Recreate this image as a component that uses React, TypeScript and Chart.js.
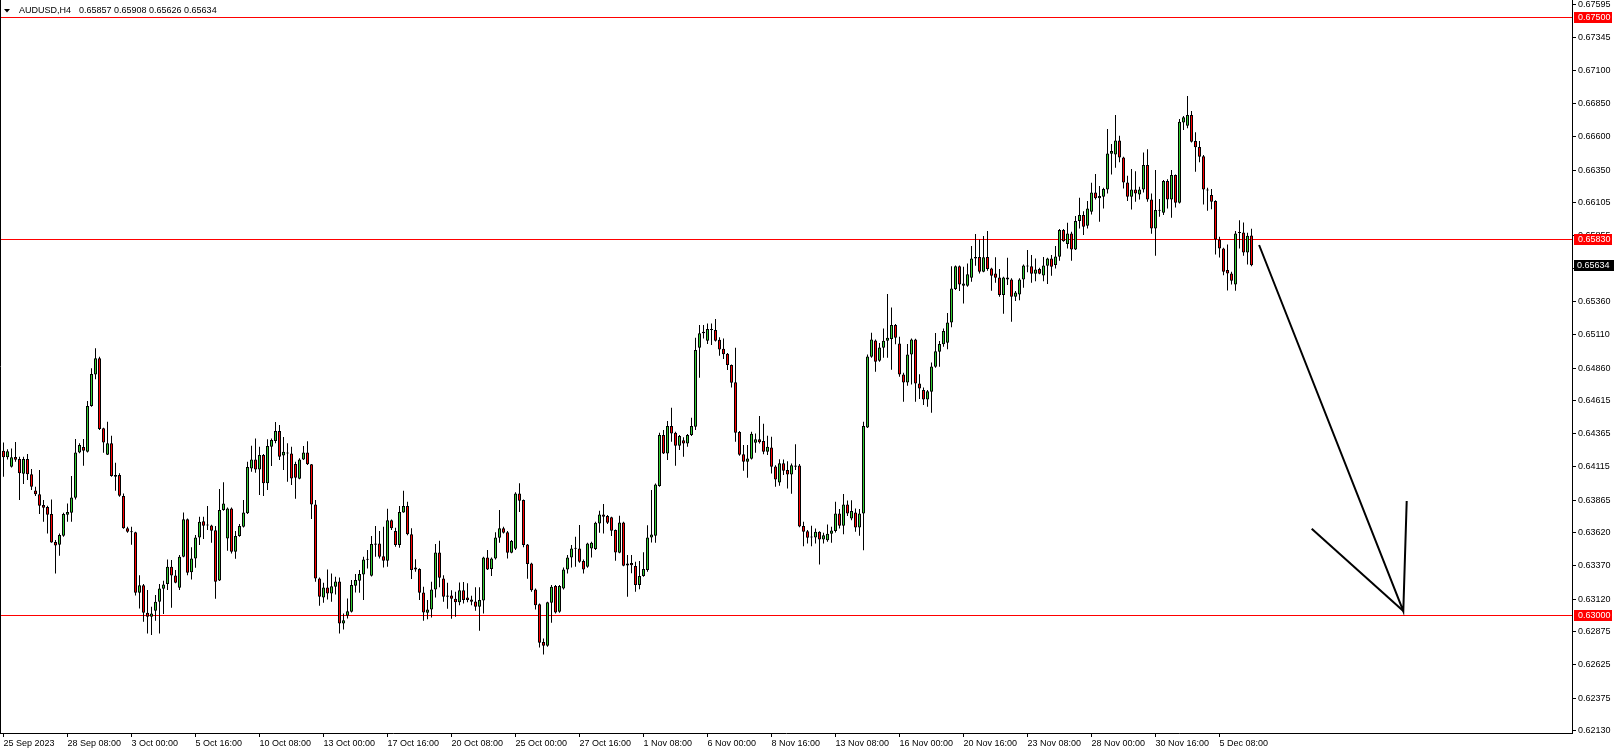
import React, { useEffect, useRef } from 'react';
import { Chart, registerables } from 'chart.js';

Chart.register(...registerables);

const symbolTitle = 'AUDUSD,H4';

// x-axis labels, one every 16 bars starting at bar 0
const xTickLabels = [
  '25 Sep 2023', '28 Sep 08:00', '3 Oct 00:00', '5 Oct 16:00', '10 Oct 08:00',
  '13 Oct 00:00', '17 Oct 16:00', '20 Oct 08:00', '25 Oct 00:00', '27 Oct 16:00',
  '1 Nov 08:00', '6 Nov 00:00', '8 Nov 16:00', '13 Nov 08:00', '16 Nov 00:00',
  '20 Nov 16:00', '23 Nov 08:00', '28 Nov 00:00', '30 Nov 16:00', '5 Dec 08:00',
];
const xTickStep = 16;

const yTickValues = [
  0.67595, 0.67345, 0.671, 0.6685, 0.666, 0.6635, 0.66105, 0.65855, 0.6561, 0.6536,
  0.6511, 0.6486, 0.64615, 0.64365, 0.64115, 0.63865, 0.6362, 0.6337, 0.6312, 0.62875,
  0.62625, 0.62375, 0.6213,
];

const levelLines = [0.675, 0.6583, 0.63];

const opens = [
  0.64238, 0.64188, 0.64117, 0.64190, 0.64175, 0.64065, 0.64175, 0.64060, 0.63939, 0.63909,
  0.63829, 0.63814, 0.63761, 0.63550, 0.63530, 0.63598, 0.63756, 0.63771, 0.63884, 0.64225,
  0.64265, 0.64230, 0.64574, 0.64812, 0.64933, 0.64406, 0.64208, 0.64293, 0.64054, 0.64054,
  0.63896, 0.63653, 0.63630, 0.63623, 0.63168, 0.63224, 0.63018, 0.62988, 0.63033, 0.63101,
  0.63199, 0.63234, 0.63364, 0.63299, 0.63206, 0.63440, 0.63721, 0.63322, 0.63427, 0.63585,
  0.63706, 0.63678, 0.63675, 0.63638, 0.63261, 0.63791, 0.63577, 0.63803, 0.63477, 0.63595,
  0.63665, 0.63766, 0.64104, 0.64172, 0.64097, 0.64205, 0.63992, 0.64268, 0.64310, 0.64386,
  0.64202, 0.64225, 0.64217, 0.64137, 0.64027, 0.64172, 0.64225, 0.64135, 0.63833, 0.63276,
  0.63133, 0.63208, 0.63163, 0.63213, 0.63254, 0.62937, 0.62995, 0.63025, 0.63221, 0.63259,
  0.63306, 0.63422, 0.63296, 0.63530, 0.63540, 0.63444, 0.63409, 0.63715, 0.63633, 0.63527,
  0.63773, 0.63821, 0.63608, 0.63359, 0.63347, 0.63171, 0.63018, 0.63043, 0.63193, 0.63472,
  0.63276, 0.63138, 0.63148, 0.63123, 0.63096, 0.63188, 0.63133, 0.63118, 0.63103, 0.63063,
  0.63111, 0.63434, 0.63347, 0.63427, 0.63583, 0.63653, 0.63623, 0.63470, 0.63500, 0.63916,
  0.63866, 0.63532, 0.63389, 0.63193, 0.63081, 0.62797, 0.62769, 0.63093, 0.63219, 0.63025,
  0.63201, 0.63344, 0.63434, 0.63500, 0.63502, 0.63407, 0.63364, 0.63502, 0.63497, 0.63690,
  0.63758, 0.63746, 0.63736, 0.63640, 0.63470, 0.63698, 0.63374, 0.63392, 0.63370, 0.63227,
  0.63294, 0.63339, 0.63585, 0.63597, 0.63971, 0.64355, 0.64217, 0.64423, 0.64373, 0.64275,
  0.64317, 0.64292, 0.64355, 0.64418, 0.65013, 0.65121, 0.65065, 0.65153, 0.65146, 0.65073,
  0.65005, 0.64968, 0.64882, 0.64752, 0.64378, 0.64210, 0.64154, 0.64177, 0.64297, 0.64323,
  0.64310, 0.64230, 0.64262, 0.64119, 0.63999, 0.64144, 0.64092, 0.64059, 0.64127, 0.64127,
  0.63670, 0.63632, 0.63585, 0.63585, 0.63627, 0.63570, 0.63564, 0.63612, 0.63634, 0.63765,
  0.63672, 0.63833, 0.63727, 0.63773, 0.63660, 0.63765, 0.64413, 0.64945, 0.65068, 0.64915,
  0.65012, 0.65065, 0.65078, 0.65183, 0.65045, 0.64812, 0.64751, 0.64962, 0.65075, 0.64744,
  0.64694, 0.64623, 0.64681, 0.64869, 0.64982, 0.65038, 0.65050, 0.65203, 0.65454, 0.65627,
  0.65479, 0.65479, 0.65540, 0.65685, 0.65695, 0.65585, 0.65695, 0.65610, 0.65572, 0.65542,
  0.65409, 0.65542, 0.65527, 0.65396, 0.65414, 0.65527, 0.65625, 0.65627, 0.65570, 0.65605,
  0.65557, 0.65630, 0.65685, 0.65635, 0.65697, 0.65898, 0.65793, 0.65873, 0.65753, 0.65966,
  0.66011, 0.65931, 0.66036, 0.66182, 0.66137, 0.66149, 0.66204, 0.66473, 0.66468, 0.66573,
  0.66445, 0.66257, 0.66149, 0.66204, 0.66167, 0.66204, 0.66388, 0.66129, 0.65911, 0.66044,
  0.66029, 0.66267, 0.66129, 0.66312, 0.66104, 0.66709, 0.66684, 0.66764, 0.66568, 0.66523,
  0.66455, 0.66204, 0.66162, 0.66117, 0.65828, 0.65760, 0.65597, 0.65572, 0.65489, 0.65876,
  0.65881, 0.65730, 0.65857,
];

const highs = [
  0.64300, 0.64248, 0.64255, 0.64303, 0.64193, 0.64193, 0.64213, 0.64100, 0.63967, 0.64092,
  0.63866, 0.63824, 0.63871, 0.63565, 0.63615, 0.63771, 0.63841, 0.64047, 0.64326, 0.64293,
  0.64326, 0.64612, 0.64858, 0.65008, 0.64945, 0.64411, 0.64456, 0.64351, 0.64147, 0.64067,
  0.63916, 0.63665, 0.63665, 0.63628, 0.63301, 0.63234, 0.63189, 0.63063, 0.63151, 0.63234,
  0.63259, 0.63419, 0.63414, 0.63339, 0.63452, 0.63773, 0.63728, 0.63510, 0.63603, 0.63741,
  0.63741, 0.63821, 0.63680, 0.63670, 0.63949, 0.64001, 0.63811, 0.63811, 0.63633, 0.63685,
  0.63866, 0.64155, 0.64275, 0.64330, 0.64268, 0.64212, 0.64323, 0.64330, 0.64453, 0.64431,
  0.64340, 0.64293, 0.64268, 0.64155, 0.64180, 0.64273, 0.64308, 0.64137, 0.63866, 0.63284,
  0.63244, 0.63344, 0.63314, 0.63289, 0.63284, 0.63013, 0.63126, 0.63264, 0.63309, 0.63339,
  0.63439, 0.63490, 0.63595, 0.63670, 0.63633, 0.63665, 0.63801, 0.63720, 0.63658, 0.63821,
  0.63936, 0.63853, 0.63653, 0.63420, 0.63352, 0.63214, 0.63113, 0.63251, 0.63535, 0.63560,
  0.63301, 0.63244, 0.63188, 0.63176, 0.63246, 0.63249, 0.63239, 0.63146, 0.63209, 0.63209,
  0.63439, 0.63490, 0.63434, 0.63623, 0.63791, 0.63665, 0.63633, 0.63565, 0.63924, 0.63992,
  0.63871, 0.63535, 0.63394, 0.63201, 0.63088, 0.62824, 0.63101, 0.63226, 0.63226, 0.63226,
  0.63359, 0.63452, 0.63527, 0.63590, 0.63678, 0.63419, 0.63545, 0.63552, 0.63703, 0.63786,
  0.63836, 0.63753, 0.63741, 0.63645, 0.63748, 0.63703, 0.63452, 0.63453, 0.63402, 0.63407,
  0.63473, 0.63677, 0.63941, 0.63991, 0.64373, 0.64393, 0.64461, 0.64561, 0.64380, 0.64355,
  0.64338, 0.64363, 0.64486, 0.65088, 0.65183, 0.65183, 0.65196, 0.65196, 0.65229, 0.65091,
  0.65083, 0.64973, 0.64887, 0.65013, 0.64385, 0.64280, 0.64280, 0.64380, 0.64368, 0.64498,
  0.64440, 0.64350, 0.64343, 0.64129, 0.64174, 0.64172, 0.64159, 0.64142, 0.64287, 0.64137,
  0.63703, 0.63640, 0.63672, 0.63652, 0.63632, 0.63620, 0.63682, 0.63665, 0.63853, 0.63798,
  0.63911, 0.63863, 0.63865, 0.63803, 0.63798, 0.64455, 0.64962, 0.65125, 0.65075, 0.65048,
  0.65158, 0.65417, 0.65316, 0.65191, 0.65095, 0.64824, 0.65040, 0.65083, 0.65080, 0.64814,
  0.64714, 0.64694, 0.64902, 0.65123, 0.65063, 0.65158, 0.65274, 0.65627, 0.65632, 0.65632,
  0.65622, 0.65647, 0.65778, 0.65868, 0.65828, 0.65853, 0.65891, 0.65615, 0.65693, 0.65605,
  0.65547, 0.65690, 0.65535, 0.65439, 0.65535, 0.65640, 0.65748, 0.65710, 0.65685, 0.65615,
  0.65695, 0.65690, 0.65710, 0.65778, 0.65906, 0.65906, 0.65953, 0.65886, 0.66004, 0.66142,
  0.66041, 0.66117, 0.66255, 0.66320, 0.66230, 0.66217, 0.66659, 0.66546, 0.66764, 0.66609,
  0.66450, 0.66307, 0.66358, 0.66342, 0.66224, 0.66483, 0.66506, 0.66174, 0.66350, 0.66132,
  0.66275, 0.66280, 0.66350, 0.66317, 0.66734, 0.66757, 0.66907, 0.66794, 0.66634, 0.66568,
  0.66463, 0.66217, 0.66207, 0.66122, 0.65848, 0.65765, 0.65790, 0.65584, 0.65891, 0.65973,
  0.65956, 0.65878, 0.65908,
];

const lows = [
  0.64042, 0.64172, 0.64112, 0.64155, 0.63866, 0.63987, 0.64017, 0.63942, 0.63896, 0.63761,
  0.63703, 0.63615, 0.63545, 0.63314, 0.63447, 0.63590, 0.63703, 0.63703, 0.63871, 0.64218,
  0.64125, 0.64225, 0.64569, 0.64775, 0.64393, 0.64223, 0.64205, 0.64042, 0.63937, 0.63891,
  0.63650, 0.63620, 0.63530, 0.63148, 0.63050, 0.62950, 0.62862, 0.62850, 0.62958, 0.62862,
  0.63008, 0.63189, 0.63055, 0.63239, 0.63189, 0.63435, 0.63301, 0.63269, 0.63357, 0.63527,
  0.63573, 0.63640, 0.63545, 0.63123, 0.63256, 0.63786, 0.63484, 0.63464, 0.63424, 0.63590,
  0.63660, 0.63761, 0.64079, 0.64072, 0.63904, 0.63896, 0.63941, 0.64122, 0.64293, 0.64167,
  0.64092, 0.64004, 0.63979, 0.63876, 0.64022, 0.64167, 0.64130, 0.63723, 0.63251, 0.63070,
  0.63093, 0.63118, 0.63100, 0.63156, 0.62862, 0.62892, 0.62975, 0.63020, 0.63171, 0.63168,
  0.63113, 0.63351, 0.63291, 0.63439, 0.63427, 0.63359, 0.63364, 0.63640, 0.63515, 0.63507,
  0.63771, 0.63602, 0.63271, 0.63326, 0.63113, 0.62958, 0.62968, 0.62983, 0.63133, 0.63209,
  0.63101, 0.63048, 0.62973, 0.62988, 0.63075, 0.63088, 0.63096, 0.63075, 0.63033, 0.62882,
  0.63013, 0.63339, 0.63294, 0.63419, 0.63545, 0.63615, 0.63427, 0.63465, 0.63490, 0.63776,
  0.63510, 0.63274, 0.63176, 0.63043, 0.62757, 0.62704, 0.62762, 0.62942, 0.63013, 0.63018,
  0.63193, 0.63314, 0.63359, 0.63364, 0.63394, 0.63314, 0.63357, 0.63434, 0.63490, 0.63620,
  0.63615, 0.63685, 0.63595, 0.63409, 0.63465, 0.63367, 0.63138, 0.63315, 0.63176, 0.63194,
  0.63289, 0.63326, 0.63547, 0.63544, 0.63966, 0.64212, 0.64167, 0.64305, 0.64124, 0.64242,
  0.64192, 0.64267, 0.64348, 0.64393, 0.64787, 0.65083, 0.65040, 0.65033, 0.65060, 0.64953,
  0.64927, 0.64845, 0.64714, 0.64305, 0.64200, 0.64087, 0.64034, 0.64172, 0.64222, 0.64292,
  0.64210, 0.64205, 0.64066, 0.63966, 0.63974, 0.64054, 0.63954, 0.63913, 0.64092, 0.63662,
  0.63519, 0.63539, 0.63519, 0.63539, 0.63381, 0.63539, 0.63552, 0.63545, 0.63622, 0.63652,
  0.63609, 0.63747, 0.63715, 0.63627, 0.63597, 0.63489, 0.64408, 0.64937, 0.64832, 0.64907,
  0.64937, 0.64937, 0.64847, 0.65038, 0.64794, 0.64606, 0.64726, 0.64736, 0.64606, 0.64626,
  0.64581, 0.64568, 0.64523, 0.64862, 0.64869, 0.65020, 0.65002, 0.65166, 0.65447, 0.65439,
  0.65346, 0.65472, 0.65509, 0.65630, 0.65572, 0.65580, 0.65592, 0.65442, 0.65502, 0.65396,
  0.65268, 0.65484, 0.65208, 0.65364, 0.65371, 0.65464, 0.65580, 0.65502, 0.65514, 0.65565,
  0.65514, 0.65492, 0.65554, 0.65610, 0.65667, 0.65810, 0.65760, 0.65667, 0.65748, 0.65911,
  0.65861, 0.65911, 0.66016, 0.66129, 0.65961, 0.66061, 0.66174, 0.66317, 0.66368, 0.66408,
  0.66212, 0.66117, 0.66054, 0.66112, 0.66129, 0.66182, 0.66112, 0.65871, 0.65705, 0.65999,
  0.66011, 0.66061, 0.65991, 0.66069, 0.66099, 0.66651, 0.66664, 0.66558, 0.66337, 0.66408,
  0.66091, 0.66044, 0.66056, 0.65715, 0.65692, 0.65559, 0.65444, 0.65489, 0.65441, 0.65760,
  0.65705, 0.65640, 0.65626,
];

const closes = [
  0.64188, 0.64233, 0.64188, 0.64170, 0.64067, 0.64175, 0.64060, 0.63967, 0.63909, 0.63824,
  0.63809, 0.63756, 0.63547, 0.63525, 0.63603, 0.63761, 0.63776, 0.63886, 0.64225, 0.64280,
  0.64238, 0.64574, 0.64815, 0.64933, 0.64401, 0.64300, 0.64293, 0.64047, 0.64042, 0.63899,
  0.63653, 0.63628, 0.63623, 0.63168, 0.63224, 0.63018, 0.62988, 0.63013, 0.63101, 0.63201,
  0.63231, 0.63364, 0.63299, 0.63244, 0.63440, 0.63721, 0.63319, 0.63427, 0.63585, 0.63703,
  0.63673, 0.63675, 0.63635, 0.63251, 0.63791, 0.63841, 0.63803, 0.63477, 0.63595, 0.63670,
  0.63773, 0.64115, 0.64172, 0.64097, 0.64205, 0.63992, 0.64273, 0.64318, 0.64386, 0.64192,
  0.64230, 0.64217, 0.64029, 0.64034, 0.64172, 0.64225, 0.64135, 0.63833, 0.63276, 0.63138,
  0.63208, 0.63163, 0.63218, 0.63254, 0.62937, 0.62962, 0.63030, 0.63226, 0.63264, 0.63309,
  0.63419, 0.63417, 0.63535, 0.63540, 0.63439, 0.63409, 0.63715, 0.63653, 0.63527, 0.63776,
  0.63821, 0.63608, 0.63339, 0.63344, 0.63168, 0.63020, 0.63043, 0.63193, 0.63472, 0.63281,
  0.63138, 0.63148, 0.63123, 0.63096, 0.63188, 0.63113, 0.63113, 0.63101, 0.63063, 0.63113,
  0.63434, 0.63344, 0.63427, 0.63585, 0.63653, 0.63620, 0.63470, 0.63557, 0.63916, 0.63861,
  0.63527, 0.63384, 0.63188, 0.63075, 0.62792, 0.62769, 0.63096, 0.63214, 0.63020, 0.63219,
  0.63344, 0.63434, 0.63502, 0.63503, 0.63402, 0.63344, 0.63540, 0.63545, 0.63695, 0.63758,
  0.63741, 0.63695, 0.63635, 0.63472, 0.63698, 0.63372, 0.63389, 0.63375, 0.63227, 0.63294,
  0.63347, 0.63585, 0.63607, 0.63984, 0.64355, 0.64217, 0.64423, 0.64368, 0.64275, 0.64348,
  0.64292, 0.64355, 0.64423, 0.64995, 0.65121, 0.65133, 0.65153, 0.65146, 0.65065, 0.65000,
  0.64963, 0.64882, 0.64749, 0.64373, 0.64207, 0.64154, 0.64179, 0.64365, 0.64323, 0.64302,
  0.64230, 0.64267, 0.64117, 0.64021, 0.64144, 0.64087, 0.64059, 0.64129, 0.64117, 0.63667,
  0.63627, 0.63582, 0.63590, 0.63627, 0.63570, 0.63602, 0.63612, 0.63637, 0.63765, 0.63672,
  0.63833, 0.63765, 0.63783, 0.63660, 0.63765, 0.64423, 0.64947, 0.65075, 0.64907, 0.65015,
  0.65065, 0.65088, 0.65183, 0.65088, 0.64812, 0.64751, 0.64962, 0.65075, 0.64744, 0.64706,
  0.64623, 0.64686, 0.64872, 0.64987, 0.65040, 0.65138, 0.65203, 0.65459, 0.65627, 0.65489,
  0.65497, 0.65565, 0.65685, 0.65695, 0.65585, 0.65693, 0.65605, 0.65555, 0.65540, 0.65409,
  0.65542, 0.65527, 0.65396, 0.65429, 0.65527, 0.65632, 0.65632, 0.65570, 0.65602, 0.65570,
  0.65632, 0.65685, 0.65622, 0.65700, 0.65898, 0.65815, 0.65873, 0.65753, 0.65966, 0.66011,
  0.65923, 0.66061, 0.66182, 0.66137, 0.66154, 0.66207, 0.66475, 0.66493, 0.66573, 0.66445,
  0.66257, 0.66149, 0.66204, 0.66174, 0.66204, 0.66388, 0.66129, 0.65911, 0.66049, 0.66049,
  0.66267, 0.66129, 0.66312, 0.66104, 0.66714, 0.66747, 0.66764, 0.66563, 0.66521, 0.66450,
  0.66204, 0.66197, 0.66112, 0.65828, 0.65760, 0.65584, 0.65572, 0.65517, 0.65873, 0.65881,
  0.65730, 0.65856, 0.65634,
];

// hand-drawn arrow (bar index, price)
const arrowMainX = [313.9, 349.95, 350.8];
const arrowMainY = [0.65786, 0.63031, 0.63859];
const arrowSideX = [327.05, 349.95];
const arrowSideY = [0.6365, 0.63031];

const FONT = '"Liberation Sans", Arial, Helvetica, sans-serif';
const BULL = '#32cd32';
const BEAR = '#ff0000';

export default function App() {
  const ref = useRef<HTMLCanvasElement>(null);

  useEffect(() => {
    const canvas = ref.current;
    if (!canvas) return;
    const idx = opens.map((_, i) => i);
    const wicks = idx.map((i) => ({
      x: i,
      y: [Math.min(lows[i], opens[i], closes[i]), Math.max(highs[i], opens[i], closes[i])],
    }));
    const bodies = idx.map((i) => ({
      x: i,
      y: [Math.min(opens[i], closes[i]), Math.max(opens[i], closes[i])],
    }));
    const bodyColors = idx.map((i) => (closes[i] >= opens[i] ? BULL : BEAR));
    const last = opens.length - 1;

    const overlay: any = {
      id: 'mt4overlay',
      beforeDatasetsDraw(chart: any) {
        const { ctx, chartArea, scales } = chart;
        ctx.save();
        ctx.strokeStyle = '#ff0000';
        ctx.lineWidth = 1;
        levelLines.forEach((v) => {
          const y = Math.round(scales.y.getPixelForValue(v)) + 0.5;
          ctx.beginPath();
          ctx.moveTo(chartArea.left, y);
          ctx.lineTo(chartArea.right, y);
          ctx.stroke();
        });
        ctx.restore();
      },
      afterDraw(chart: any) {
        const { ctx, chartArea, scales } = chart;
        ctx.save();
        ctx.strokeStyle = '#000';
        ctx.lineWidth = 1;
        ctx.beginPath();
        ctx.moveTo(chartArea.left + 0.5, chartArea.top);
        ctx.lineTo(chartArea.left + 0.5, chartArea.bottom);
        ctx.stroke();

        ctx.font = `9px ${FONT}`;
        ctx.textBaseline = 'middle';
        ctx.textAlign = 'left';
        levelLines.forEach((v) => {
          const y = Math.round(scales.y.getPixelForValue(v));
          ctx.fillStyle = '#ff0000';
          ctx.fillRect(chartArea.right + 2, y - 5, 38, 11);
          ctx.fillStyle = '#ffffff';
          ctx.fillText(v.toFixed(5), chartArea.right + 6, y + 0.5);
        });
        const cy = Math.round(scales.y.getPixelForValue(closes[last]));
        ctx.fillStyle = '#000000';
        ctx.fillRect(chartArea.right + 2, cy - 5, 40, 11);
        ctx.fillStyle = '#ffffff';
        ctx.fillText(closes[last].toFixed(5), chartArea.right + 5, cy + 0.5);

        // title
        ctx.fillStyle = '#000000';
        ctx.beginPath();
        ctx.moveTo(4, 9);
        ctx.lineTo(10, 9);
        ctx.lineTo(7, 12.5);
        ctx.closePath();
        ctx.fill();
        ctx.fillText(symbolTitle, 19, 11);
        const ohlc = [opens[last], highs[last], lows[last], closes[last]].map((v) => v.toFixed(5)).join(' ');
        ctx.fillText(ohlc, 79, 11);
        ctx.restore();
      },
    };

    const chart = new Chart(canvas, {
      type: 'bar',
      data: {
        datasets: [
          {
            type: 'line',
            data: arrowMainX.map((x, i) => ({ x, y: arrowMainY[i] })),
            borderColor: '#000',
            borderWidth: 2,
            pointRadius: 0,
            tension: 0,
            fill: false,
            order: 0,
          } as any,
          {
            type: 'line',
            data: arrowSideX.map((x, i) => ({ x, y: arrowSideY[i] })),
            borderColor: '#000',
            borderWidth: 2,
            pointRadius: 0,
            tension: 0,
            fill: false,
            order: 0,
          } as any,
          {
            type: 'bar',
            data: bodies as any,
            backgroundColor: bodyColors,
            borderColor: '#000',
            borderWidth: 1,
            borderSkipped: false,
            barThickness: 3,
            grouped: false,
            minBarLength: 1,
            inflateAmount: 0,
            order: 1,
          } as any,
          {
            type: 'bar',
            data: wicks as any,
            backgroundColor: '#000',
            borderWidth: 0,
            barThickness: 1,
            grouped: false,
            inflateAmount: 0,
            order: 2,
          } as any,
        ],
      },
      options: {
        animation: false,
        responsive: false,
        devicePixelRatio: 1,
        layout: { padding: 0, autoPadding: false } as any,
        plugins: {
          legend: { display: false },
          tooltip: { enabled: false },
          title: { display: false },
        },
        scales: {
          x: {
            type: 'linear',
            position: 'bottom',
            min: -0.875,
            max: 392.125,
            offset: false,
            bounds: 'data',
            grid: {
              display: true,
              drawOnChartArea: false,
              drawTicks: true,
              tickLength: 4,
              color: '#000',
              lineWidth: 1,
              offset: false,
            },
            border: { display: true, color: '#000', width: 1 },
            ticks: {
              autoSkip: false,
              maxRotation: 0,
              minRotation: 0,
              align: 'start',
              padding: 1,
              color: '#000',
              font: { family: FONT, size: 9 },
              callback: (_v: any, i: number) => xTickLabels[i] ?? '',
            },
            afterBuildTicks: (s: any) => {
              s.ticks = xTickLabels.map((_, i) => ({ value: i * xTickStep }));
            },
            afterFit: (s: any) => {
              s.height = 21;
              s.paddingLeft = 0;
              s.paddingRight = 0;
            },
          } as any,
          y: {
            type: 'linear',
            position: 'right',
            min: 0.621127,
            max: 0.676302,
            bounds: 'data',
            grid: {
              display: true,
              drawOnChartArea: false,
              drawTicks: true,
              tickLength: 4,
              color: '#000',
              lineWidth: 1,
            },
            border: { display: true, color: '#000', width: 1 },
            ticks: {
              autoSkip: false,
              padding: 2,
              color: '#000',
              font: { family: FONT, size: 9 },
              callback: (v: any) => Number(v).toFixed(5),
            },
            afterBuildTicks: (s: any) => {
              s.ticks = yTickValues.map((v) => ({ value: v }));
            },
            afterFit: (s: any) => {
              s.width = 46;
              s.paddingTop = 0;
              s.paddingBottom = 0;
            },
          } as any,
        },
      },
      plugins: [overlay],
    });

    return () => {
      chart.destroy();
    };
  }, []);

  return (
    <div style={{ position: 'fixed', left: 0, top: 0, width: 1618, height: 754, background: '#ffffff' }}>
      <canvas ref={ref} width={1618} height={754} style={{ display: 'block', width: 1618, height: 754 }} />
    </div>
  );
}
